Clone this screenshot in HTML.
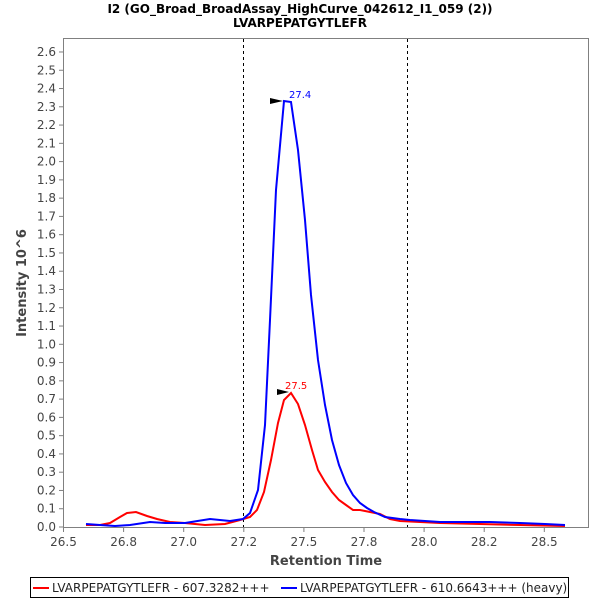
<!DOCTYPE html>
<html><head><meta charset="utf-8"><style>
body{margin:0;background:#fff;}
svg{display:block;font-family:"DejaVu Sans","Liberation Sans",sans-serif;}
</style></head><body>
<svg width="600" height="600" viewBox="0 0 600 600">
<rect width="600" height="600" fill="#fff"/>
<text x="300" y="13" text-anchor="middle" font-size="12" font-weight="bold" fill="#000">I2 (GO_Broad_BroadAssay_HighCurve_042612_I1_059 (2))</text>
<text x="300" y="27" text-anchor="middle" font-size="12" font-weight="bold" fill="#000">LVARPEPATGYTLEFR</text>
<rect x="63.5" y="38.5" width="525" height="489" fill="#fff" stroke="#808080" stroke-width="1"/>
<g stroke="#808080" stroke-width="1" id="yt"></g>
<g font-size="12" fill="#444" text-anchor="end" id="yl"></g>
<g font-size="12" fill="#444" text-anchor="middle" id="xl"></g>
<line x1="243.5" y1="39" x2="243.5" y2="527" stroke="#000" stroke-dasharray="3,3"/>
<line x1="407.5" y1="39" x2="407.5" y2="527" stroke="#000" stroke-dasharray="3,3"/>
<polyline fill="none" stroke="#f00" stroke-width="2" points="86,525 100,525 110,523 120,517 127,513 136,512 147,516 157,519 170,522 185,523 205,525 225,524 240,520 250,517 257,510 264,492 271,460 278,423 284,400 291,393 298,404 305,425 312,450 318,470 325,482 332,492 339,500 346,505 353,510 360,510 370,512 380,514 390,519 400,521 420,522 440,523 480,524 520,525 565,526"/>
<polyline fill="none" stroke="#00f" stroke-width="2" points="86,524 100,525 115,526 130,525 150,522 165,523 185,523 210,519 230,521 243,519 250,513 258,490 265,425 270,320 276,190 284,101 291,102 298,150 305,220 311,295 318,360 325,405 332,440 339,465 346,483 353,495 360,503 367,508 374,512 385,517 400,519 410,520 425,521 440,522 470,522 490,522 520,523 545,524 565,525"/>
<polygon points="270,98 283,101 270,104" fill="#000"/>
<polygon points="277,389 289,392 277,395" fill="#000"/>
<text x="289" y="98" font-size="10" fill="#00f">27.4</text>
<text x="285" y="389" font-size="10" fill="#f00">27.5</text>
<text x="326" y="565" text-anchor="middle" font-size="13" font-weight="bold" fill="#444">Retention Time</text>
<text transform="translate(26,283) rotate(-90)" text-anchor="middle" font-size="13" font-weight="bold" fill="#444">Intensity 10^6</text>
<rect x="30.5" y="577.5" width="538" height="20" fill="#fff" stroke="#000"/>
<line x1="33" y1="588" x2="49" y2="588" stroke="#f00" stroke-width="2"/>
<text x="52" y="592" font-size="12" fill="#222">LVARPEPATGYTLEFR - 607.3282+++</text>
<line x1="281" y1="588" x2="297" y2="588" stroke="#00f" stroke-width="2"/>
<text x="300" y="592" font-size="12" fill="#222">LVARPEPATGYTLEFR - 610.6643+++ (heavy)</text>
<script>
var ns="http://www.w3.org/2000/svg";
var yt=document.getElementById('yt'),yl=document.getElementById('yl'),xl=document.getElementById('xl');
for(var i=0;i<=26;i++){var y=527-i*18.27;
var l=document.createElementNS(ns,'line');l.setAttribute('x1',59);l.setAttribute('x2',63);l.setAttribute('y1',y);l.setAttribute('y2',y);yt.appendChild(l);
var t=document.createElementNS(ns,'text');t.setAttribute('x',56);t.setAttribute('y',y+4);t.textContent=(i/10).toFixed(1);yl.appendChild(t);}
var xs=["26.5","26.8","27.0","27.2","27.5","27.8","28.0","28.2","28.5"];
for(var j=0;j<9;j++){var x=63.5+j*60.1;
var l=document.createElementNS(ns,'line');l.setAttribute('x1',x);l.setAttribute('x2',x);l.setAttribute('y1',528);l.setAttribute('y2',532);yt.appendChild(l);
var t=document.createElementNS(ns,'text');t.setAttribute('x',x);t.setAttribute('y',546);t.textContent=xs[j];xl.appendChild(t);}
</script>
</svg>
</body></html>
